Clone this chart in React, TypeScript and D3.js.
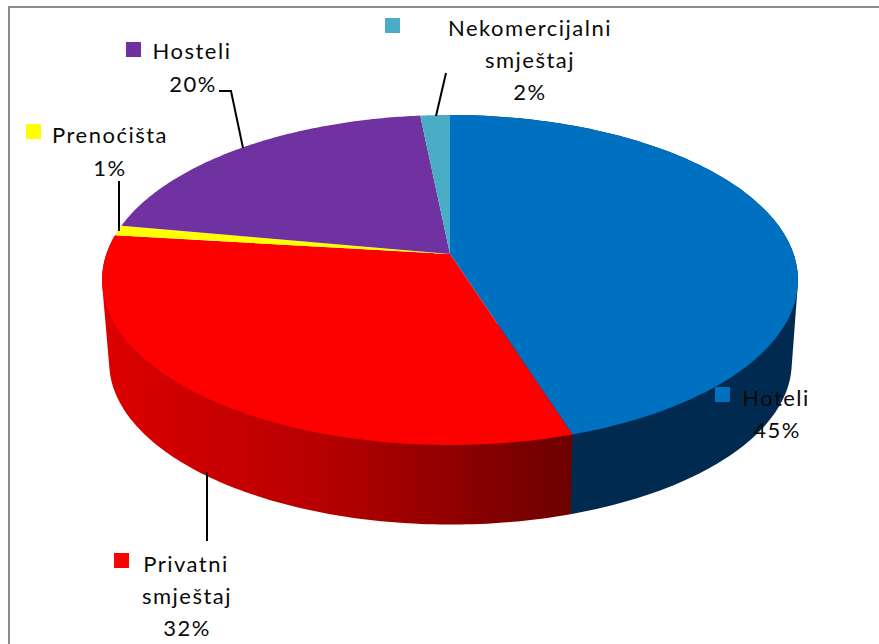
import React from "react";
import * as d3 from "d3";

const categories = ["Hoteli", "Privatni smještaj", "Prenoćišta", "Hosteli", "Nekomercijalni smještaj"];
const values = [45.1, 31.8, 1.0, 20.5, 1.6];
const colors = ["#0070c0", "#fd0000", "#ffff00", "#7030a0", "#4bacc6"];

const W = 879, H = 644;
const P = 0.1576;
const project = (cx: number, cy: number, kx: number, my: number) => (a: number): [number, number] => {
  const u = Math.sin(a), v = -Math.cos(a), w = 1 - P * v;
  return [cx + (kx * u) / w, cy + (my * v) / w];
};
const top = project(450, 254, 343.6, 160.9);
const bottom = project(450.5, 337, 337, 158);

const pie = d3.pie<number>().sort(null).value((d) => d);
const arcs = pie(values);
const line = d3.line();
const sample = (a0: number, a1: number) => d3.range(0, 121).map((i) => a0 + ((a1 - a0) * i) / 120);

// the wall of a slice is the hull of its top and bottom rims, so the tangent edges are included
const sidePath = (a0: number, a1: number) => {
  const hull = d3.polygonHull([...sample(a0, a1).map(top), ...sample(a0, a1).map(bottom)]);
  return line(hull as [number, number][]) + "Z";
};
const topPath = (a0: number, a1: number) =>
  line([[450, 254], ...sample(a0, a1).map(top)]) + "Z";

const textStyle: React.CSSProperties = {
  fontFamily: "Lato, Carlito, sans-serif",
  fontSize: 22,
  fill: "#0a0a0a",
  letterSpacing: 1.5,
};

const labels = [
  { i: 0, sw: [715, 387], lines: [["Hoteli", 776, 406], ["45%", 777, 438]] },
  { i: 1, sw: [114, 553], lines: [["Privatni", 186, 572], ["smještaj", 187, 604], ["32%", 187, 636]] },
  { i: 2, sw: [26, 124], lines: [["Prenoćišta", 110, 143], ["1%", 110, 176]] },
  { i: 3, sw: [126, 42], lines: [["Hosteli", 192, 59], ["20%", 193, 92]] },
  { i: 4, sw: [385, 18], lines: [["Nekomercijalni", 530, 36], ["smještaj", 530, 68], ["2%", 530, 100]] },
];
const leaders = [
  "M207,472V541",
  "M119,181V231",
  "M219,91H231L243,148",
  "M446,73L436,116",
];

export default function App() {
  return (
    <svg width={W} height={H} style={{ position: "absolute", left: 0, top: 0, background: "#fff" }}>
      <defs>
        <linearGradient id="redSide" gradientUnits="userSpaceOnUse" x1={105} x2={572} y1={0} y2={0}>
          <stop offset={0} stopColor="#dc0000" />
          <stop offset={0.45} stopColor="#b80000" />
          <stop offset={1} stopColor="#6c0000" />
        </linearGradient>
        <filter id="soft" x="-5%" y="-5%" width="110%" height="110%">
          <feGaussianBlur stdDeviation="0.5" />
        </filter>
      </defs>
      <rect x={9} y={7} width={900} height={700} fill="#fff" stroke="#8c8c8c" strokeWidth={2} />
      <g filter="url(#soft)">
        {arcs.slice(0, 2).map((a, i) => (
          <path key={"s" + i} d={sidePath(a.startAngle, a.endAngle)} fill={i === 0 ? "#002b4f" : "url(#redSide)"} />
        ))}
        {arcs.map((a, i) => (
          <path key={"t" + i} d={topPath(a.startAngle, a.endAngle)} fill={colors[i]} />
        ))}
      </g>
      {leaders.map((d) => (
        <path key={d} d={d} fill="none" stroke="#000" strokeWidth={2} />
      ))}
      {labels.map((l) => (
        <g key={categories[l.i]}>
          <rect x={l.sw[0]} y={l.sw[1]} width={15} height={15} fill={colors[l.i]} />
          {l.lines.map(([t, x, y]) => (
            <text key={t as string} x={x as number} y={y as number} textAnchor="middle" style={textStyle}>
              {t}
            </text>
          ))}
        </g>
      ))}
    </svg>
  );
}
